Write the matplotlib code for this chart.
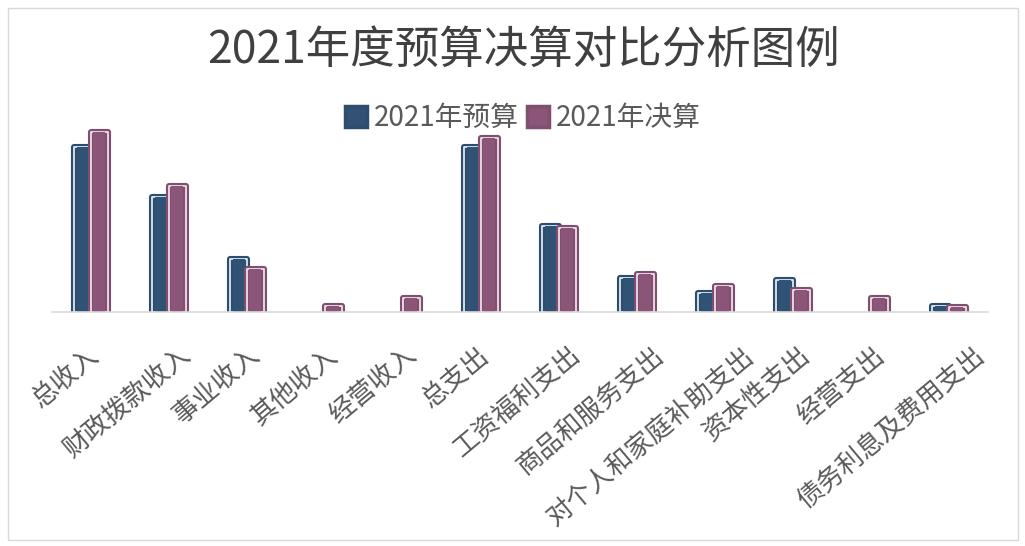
import matplotlib
matplotlib.use("Agg")
import matplotlib.pyplot as plt
import numpy as np
from matplotlib.patches import Rectangle, Patch
from matplotlib.transforms import ScaledTranslation

plt.rcParams['font.family'] = ['Noto Sans CJK SC', 'DejaVu Sans']

categories = ["总收入", "财政拨款收入", "事业收入", "其他收入", "经营收入", "总支出",
              "工资福利支出", "商品和服务支出", "对个人和家庭补助支出", "资本性支出",
              "经营支出", "债务利息及费用支出"]
budget = [165, 115, 53, 0, 0, 165, 86, 34, 19, 32, 0, 6]
final = [180, 126, 43, 6, 14, 174, 84, 38, 26, 22, 14, 5]
series_names = ["2021年预算", "2021年决算"]

W, H = 1025, 546
fig = plt.figure(figsize=(W / 100, H / 100), dpi=100)
fig.patch.set_facecolor("white")

# figure border
fig.add_artist(Rectangle((8 / W, 6 / H), 1010 / W, 532 / H, transform=fig.transFigure,
                         fill=False, edgecolor="#d9d9d9", linewidth=1.0))

ax = fig.add_axes([52 / W, (H - 312) / H, 936 / W, 212 / H])
x = np.arange(len(categories))
bw = 0.22
off = 0.105

styles = [
    dict(fill="#2f5275", outer="#2f4d6a", inner="#dce8f5"),
    dict(fill="#8a5578", outer="#7d5070", inner="#f2dce9"),
]
vals = [budget, final]
for k, (v, st) in enumerate(zip(vals, styles)):
    v = np.asarray(v, dtype=float)
    mask = v > 0
    pos = (x + (-off if k == 0 else off))[mask]
    vv = v[mask]
    z = 2 + k * 3
    ax.bar(pos, vv, bw, color=st["fill"], edgecolor=st["outer"], linewidth=4.4,
           joinstyle="round", zorder=z)
    ax.bar(pos, vv, bw, color="none", edgecolor=st["inner"], linewidth=1.3,
           joinstyle="round", zorder=z + 1)
    ax.bar(pos, vv, bw * 0.72, color=st["fill"], edgecolor="none", zorder=z + 2)

ax.set_xlim(-0.5, len(categories) - 0.5)
ax.set_ylim(0, 212)
for s in ["top", "right", "left"]:
    ax.spines[s].set_visible(False)
ax.spines["bottom"].set_color("#d9d9d9")
ax.spines["bottom"].set_linewidth(1.2)
ax.spines["bottom"].set_zorder(10)
ax.set_yticks([])
ax.set_xticks(x)
ax.set_xticklabels([])
ax.tick_params(axis="x", length=0)

for i, lab in enumerate(categories):
    dx = (-8 + 4.4 * len(lab)) / 100
    dy = -40 / 100
    tr = ax.transData + ScaledTranslation(dx, dy, fig.dpi_scale_trans)
    ax.text(i, 0, lab, rotation=40, ha="right", va="center", rotation_mode="anchor",
            fontsize=18.8, color="#5a5a5a", transform=tr, clip_on=False)

fig.text(524 / W, 1 - 50 / H, "2021年度预算决算对比分析图例", ha="center", va="center",
         fontsize=32, color="#404040")

handles = [Patch(facecolor=st["fill"], edgecolor=st["outer"], linewidth=2.5, label=n)
           for st, n in zip(styles, series_names)]
fig.legend(handles=handles, loc="center", bbox_to_anchor=(523 / W, 1 - 118 / H), ncol=2,
           frameon=False, fontsize=20, handlelength=0.8, handleheight=0.8,
           handletextpad=0.25, columnspacing=0.3, labelcolor="#5a5a5a")

fig.savefig("out.png", dpi=100, facecolor="white")
